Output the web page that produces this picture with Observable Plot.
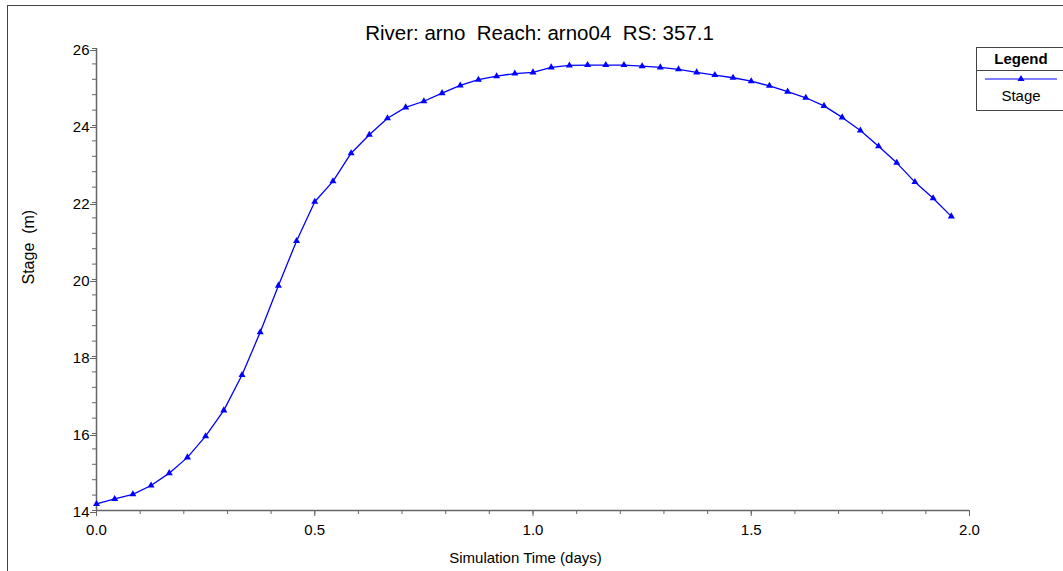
<!DOCTYPE html>
<html>
<head>
<meta charset="utf-8">
<script src="https://cdn.jsdelivr.net/npm/d3@7"></script>
<script src="https://cdn.jsdelivr.net/npm/@observablehq/plot@0.6"></script>
<style>
  html, body { margin: 0; padding: 0; background: #fff; }
  #wrap { position: relative; width: 1063px; height: 571px; overflow: hidden; font-family: Arial, "Liberation Sans", sans-serif; }
  #border { position: absolute; left: 7px; top: 5px; width: 1100px; height: 600px; border: 1.5px solid #444; box-sizing: border-box; pointer-events: none; }
  #legend { position: absolute; left: 976px; top: 47px; width: 120px; height: 64px; border: 1px solid #444; box-sizing: border-box; background: #fff; }
  #legend .head { position: absolute; left: 0; top: 0; width: 88px; height: 22px; border-bottom: 1px solid #444; text-align: center; font-weight: bold; font-size: 15px; line-height: 21px; color: #000; }
  #legend svg { position: absolute; left: 0; top: 25px; }
  #legend .lab { position: absolute; left: 0; top: 39px; width: 88px; text-align: center; font-size: 15px; color: #000; }
  #chart { position: absolute; left: 0; top: 0; }
</style>
</head>
<body>
<div id="wrap">
  <div id="chart"></div>
  <div id="border"></div>
  <div id="legend">
    <div class="head">Legend</div>
    <svg width="88" height="12"><line x1="8" x2="80" y1="6" y2="6" stroke="#0000ff" stroke-width="1.2"></line><path d="M44,2 L47.5,8 L40.5,8 Z" fill="#0000ff"></path></svg>
    <div class="lab">Stage</div>
  </div>
</div>
<script>
// Simulation time in hours (converted to days below)
const hours = d3.range(0, 48);
const stage = [
  14.17, 14.30, 14.42, 14.65, 14.97, 15.38, 15.93, 16.60, 17.52, 18.63,
  19.84, 21.00, 22.02, 22.55, 23.28, 23.76, 24.19, 24.47, 24.63, 24.84,
  25.04, 25.19, 25.28, 25.35, 25.38, 25.51, 25.56, 25.57, 25.57, 25.57,
  25.54, 25.51, 25.46, 25.38, 25.31, 25.24, 25.15, 25.03, 24.88, 24.72,
  24.51, 24.21, 23.87, 23.46, 23.03, 22.53, 22.11, 21.64
];
const xMajorTicks = [0, 0.5, 1.0, 1.5, 2.0];
const yMajorTicks = [14, 16, 18, 20, 22, 24, 26];
const titleText = "River: arno  Reach: arno04  RS: 357.1";
const xLabel = "Simulation Time (days)";
const yLabel = "Stage  (m)";

const data = hours.map((h, i) => ({t: h / 24, stage: stage[i]}));
const xMinor = d3.range(0, 21).map(i => i / 10);
const yMinor = d3.range(0, 31).map(i => 14 + i * 0.4);
const axisColor = "#666";

const chart = Plot.plot({
  width: 1063,
  height: 571,
  marginLeft: 96,
  marginRight: 94,
  marginTop: 48,
  marginBottom: 61,
  style: {fontFamily: "Arial, 'Liberation Sans', sans-serif", fontSize: "15px", color: "#000", background: "transparent"},
  x: {domain: [0, 2]},
  y: {domain: [14, 26]},
  marks: [
    Plot.axisX({ticks: xMinor, tickSize: 4, text: null, label: null, stroke: axisColor}),
    Plot.axisX({ticks: xMajorTicks, tickSize: 6, tickPadding: 8, tickFormat: d3.format(".1f"), stroke: axisColor, fill: "#000", label: null, fontSize: 15}),
    Plot.axisY({ticks: yMinor, tickSize: 4, text: null, label: null, stroke: axisColor}),
    Plot.axisY({ticks: yMajorTicks, tickSize: 6, tickPadding: 1, dy: 2, tickFormat: d => String(d), stroke: axisColor, fill: "#000", label: null, fontSize: 15}),
    Plot.ruleY([14], {stroke: axisColor, strokeWidth: 1.5}),
    Plot.ruleX([0], {stroke: axisColor, strokeWidth: 1.5}),
    Plot.line(data, {x: "t", y: "stage", stroke: "#0000ff", strokeWidth: 1.3}),
    Plot.dot(data, {x: "t", y: "stage", symbol: "triangle", r: 2.6, fill: "#0000ff", stroke: "none"}),
    Plot.text([titleText], {text: d => d, frameAnchor: "top", dy: -23, dx: 6.5, fontSize: 20.5, fill: "#000"}),
    Plot.text([xLabel], {text: d => d, frameAnchor: "bottom", dy: 52, dx: -7.5, fontSize: 15, fill: "#000"}),
    Plot.text([yLabel], {text: d => d, frameAnchor: "left", dx: -68, dy: 5, rotate: -90, fontSize: 16, fill: "#000"})
  ]
});
document.getElementById("chart").appendChild(chart);
</script>
</body>
</html>
